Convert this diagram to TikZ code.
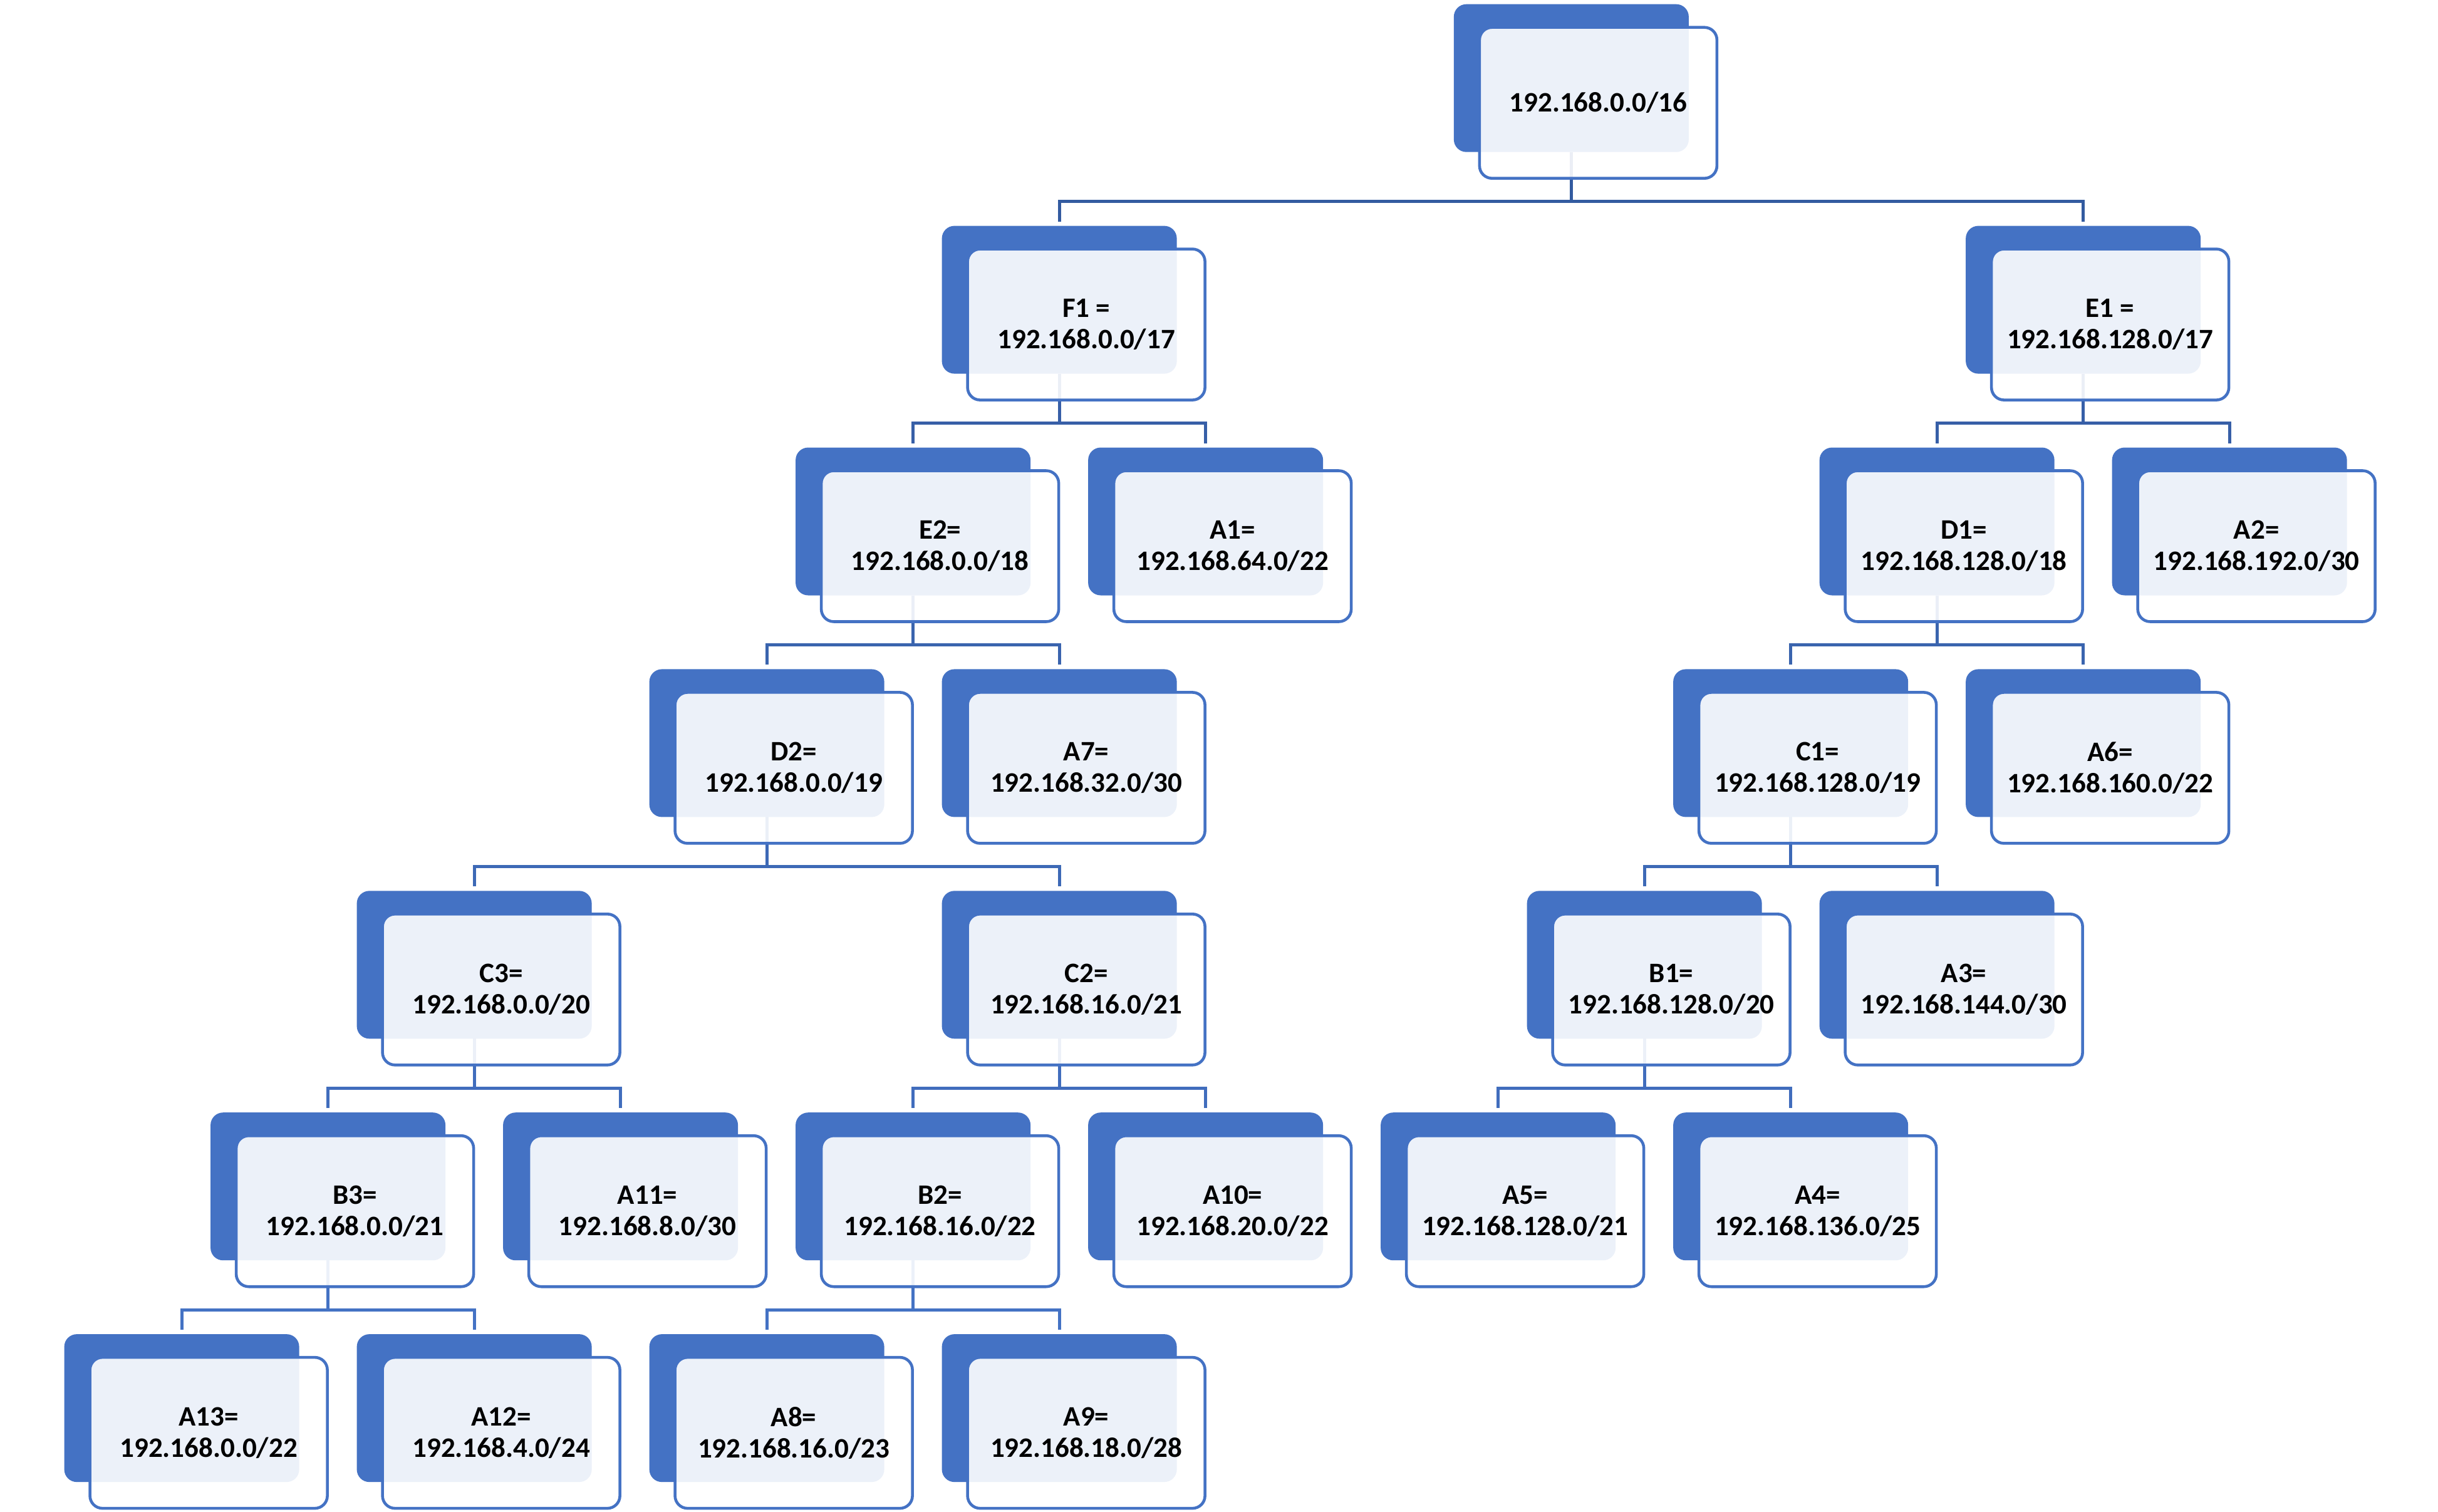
\documentclass[tikz,border=0pt]{standalone}
\usepackage{fontspec}
\setmainfont{Carlito}
\usetikzlibrary{backgrounds}

\definecolor{boxblue}{HTML}{4472C4}
\definecolor{linedark}{HTML}{2F5597}

\tikzset{
    backbox/.style={fill=boxblue, rounded corners=0.2cm, minimum width=3.75cm, minimum height=2.36cm,
        inner sep=0pt, outer sep=0pt, anchor=north west},
    frontbox/.style={draw=boxblue, line width=1.3pt, fill=white, fill opacity=0.9, text opacity=1,
        rounded corners=0.2cm, minimum width=3.79cm, minimum height=2.41cm, inner sep=0pt, outer sep=0pt,
        align=center, anchor=north west, font=\fontsize{12.8}{14.2}\selectfont\bfseries},
    link/.style={line width=1.42pt}
}

\begin{document}
\begin{tikzpicture}
    \useasboundingbox (0,0) rectangle (38.92,-24.13);

    % draw the subnet boxes: name / column / row / text
    \foreach \name/\col/\row/\txt in {
        top/9.5/0/{192.168.0.0/16},
        F1/6/1/{F1 =\\192.168.0.0/17}, E1/13/1/{E1 =\\192.168.128.0/17},
        E2/5/2/{E2=\\192.168.0.0/18}, A1/7/2/{A1=\\192.168.64.0/22},
        D1/12/2/{D1=\\192.168.128.0/18}, A2/14/2/{A2=\\192.168.192.0/30},
        D2/4/3/{D2=\\192.168.0.0/19}, A7/6/3/{A7=\\192.168.32.0/30},
        C1/11/3/{C1=\\192.168.128.0/19}, A6/13/3/{A6=\\192.168.160.0/22},
        C3/2/4/{C3=\\192.168.0.0/20}, C2/6/4/{C2=\\192.168.16.0/21},
        B1/10/4/{B1=\\192.168.128.0/20}, A3/12/4/{A3=\\192.168.144.0/30},
        B3/1/5/{B3=\\192.168.0.0/21}, A11/3/5/{A11=\\192.168.8.0/30},
        B2/5/5/{B2=\\192.168.16.0/22}, A10/7/5/{A10=\\192.168.20.0/22},
        A5/9/5/{A5=\\192.168.128.0/21}, A4/11/5/{A4=\\192.168.136.0/25},
        A13/0/6/{A13=\\192.168.0.0/22}, A12/2/6/{A12=\\192.168.4.0/24},
        A8/4/6/{A8=\\192.168.16.0/23}, A9/6/6/{A9=\\192.168.18.0/28}}{
        % back box
        \node[backbox] (\name) at ({1.026+2.335*\col},{-0.067-3.539*\row}) {};
        % front box with the text
        \node[frontbox] (\name txt) at ([xshift=0.41cm,yshift=-0.37cm]\name.north west) {\txt};
    }

    % draw the connectors behind the boxes
    \begin{scope}[on background layer]
        \foreach \src/\dst/\lvl in {
            top/F1/0, top/E1/0,
            F1/E2/1, F1/A1/1, E1/D1/1, E1/A2/1,
            E2/D2/2, E2/A7/2, D1/C1/2, D1/A6/2,
            D2/C3/3, D2/C2/3, C1/B1/3, C1/A3/3,
            C3/B3/4, C3/A11/4, C2/B2/4, C2/A10/4, B1/A5/4, B1/A4/4,
            B3/A13/5, B3/A12/5, B2/A8/5, B2/A9/5}{
            \pgfmathtruncatemacro\pct{20+16*\lvl}
            \draw[link, color=boxblue!\pct!linedark] (\src.south) |- ([yshift=0.39cm]\dst.north) -- ([yshift=0.07cm]\dst.north);
        }
    \end{scope}
\end{tikzpicture}
\end{document}
